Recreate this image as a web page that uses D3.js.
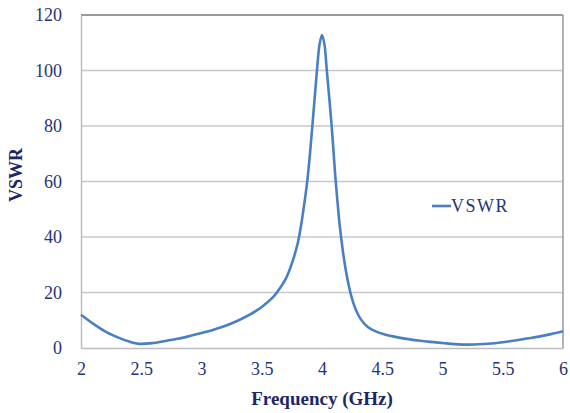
<!DOCTYPE html>
<html><head><meta charset="utf-8">
<script src="https://cdn.jsdelivr.net/npm/d3@7"></script>
<style>body{margin:0;background:#fff;} svg{display:block;}</style>
</head><body>
<script>
const freq = [2.0,2.1,2.2,2.3,2.4,2.48,2.6,2.7,2.8,2.9,3.0,3.1,3.2,3.3,3.4,3.5,3.6,3.65,3.7,3.75,3.8,3.84,3.88,3.92,3.96,3.98,4.0,4.02,4.04,4.08,4.11,4.13,4.15,4.19,4.23,4.27,4.32,4.38,4.45,4.52,4.6,4.7,4.8,4.9,5.0,5.1,5.22,5.4,5.5,5.6,5.7,5.8,5.9,6.0];
const vswr = [12.0,8.8,6.0,3.9,2.3,1.5,1.8,2.5,3.3,4.3,5.4,6.6,8.0,9.8,12.0,14.8,18.6,21.5,25,30.5,38,48,61,80,101,109.5,112.8,109.5,100,80,62,52,43,30,21,15,10.5,7.6,5.9,4.9,4.1,3.3,2.7,2.2,1.8,1.4,1.2,1.6,2.1,2.7,3.4,4.1,5.0,6.0];
const xTicks = [2,2.5,3,3.5,4,4.5,5,5.5,6];
const yTicks = [0,20,40,60,80,100,120];
const seriesName = "VSWR";
const xTitle = "Frequency (GHz)";
const yTitle = "VSWR";

const W = 570, H = 413;
const m = {left:81, right:7, top:15, bottom:65};
const svg = d3.select("body").append("svg").attr("width",W).attr("height",H);
const x = d3.scaleLinear().domain([2,6]).range([m.left, W-m.right]);
const y = d3.scaleLinear().domain([0,120]).range([H-m.bottom, m.top]);
const navy = "#26337a";
const font = "'Liberation Serif','Times New Roman',serif";

// gridlines
svg.append("g").selectAll("line").data(yTicks.filter(d=>d>0)).join("line")
  .attr("x1",x(2)).attr("x2",x(6)).attr("y1",d=>y(d)).attr("y2",d=>y(d))
  .attr("stroke",d=>d===120?"#9a9a9a":"#c8c8c8").attr("stroke-width",d=>d===120?2:1.5);
// right border
svg.append("line").attr("x1",x(6)).attr("x2",x(6)).attr("y1",y(120)).attr("y2",y(0))
  .attr("stroke","#9a9a9a").attr("stroke-width",1.5);

// axes
const xAxis = svg.append("g").attr("transform",`translate(0,${y(0)})`)
  .call(d3.axisBottom(x).tickValues(xTicks).tickSize(0).tickPadding(14).tickFormat(d3.format("")));
const yAxis = svg.append("g").attr("transform",`translate(${x(2)},0)`)
  .call(d3.axisLeft(y).tickValues(yTicks).tickSize(0).tickPadding(19));
[xAxis,yAxis].forEach(a=>{
  a.select(".domain").attr("stroke","#bdbdbd").attr("stroke-width",1.5);
  a.selectAll("text").attr("font-family",font).attr("font-size",18).attr("fill",navy);
});

// line
svg.append("path").datum(freq.map((f,i)=>[f,vswr[i]]))
  .attr("fill","none").attr("stroke","#4a7fc4").attr("stroke-width",2.6)
  .attr("stroke-linejoin","round")
  .attr("d",d3.line().x(d=>x(d[0])).y(d=>y(d[1])).curve(d3.curveCatmullRom.alpha(0.5)));

// legend
svg.append("line").attr("x1",432).attr("x2",451).attr("y1",206).attr("y2",206)
  .attr("stroke","#4a7fc4").attr("stroke-width",2.6);
svg.append("text").attr("x",451).attr("y",212).attr("font-family",font).attr("font-size",18)
  .attr("fill",navy).attr("letter-spacing",1.5).text(seriesName);

// titles
svg.append("text").attr("x",322).attr("y",405).attr("text-anchor","middle")
  .attr("font-family",font).attr("font-size",19).attr("font-weight","bold").attr("fill","#1e2766").text(xTitle);
svg.append("text").attr("transform","translate(22,175) rotate(-90)").attr("text-anchor","middle")
  .attr("font-family",font).attr("font-size",18).attr("font-weight","bold").attr("fill","#1e2766").text(yTitle);
</script>
</body></html>
